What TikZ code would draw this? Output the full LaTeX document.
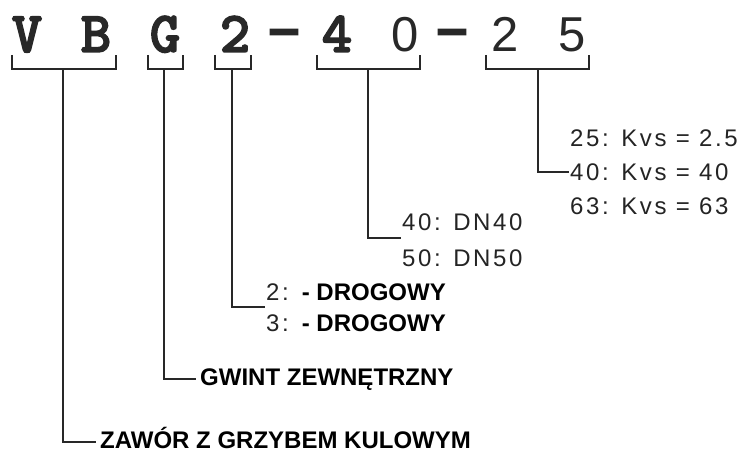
\documentclass[tikz,border=0pt]{standalone}
\usepackage{fontspec}
\setmainfont{Liberation Sans}
\newfontfamily\codefont{lmmonolt10-bold}[Extension=.otf,FakeBold=2.5]
\newfontfamily\dashfont{Liberation Sans}[FakeBold=2]
\newfontfamily\optfont[LetterSpace=11]{Liberation Sans}
\definecolor{inkgray}{RGB}{40,40,40}
\definecolor{optgray}{RGB}{36,36,36}
\begin{document}
\begin{tikzpicture}[x=1pt,y=1pt,yscale=-1,xscale=1,
  codeletter/.style={font=\codefont\fontsize{58}{58}\selectfont,text=inkgray,inner sep=0pt,anchor=base},
  codedigit/.style={font=\fontsize{49}{49}\selectfont,text=inkgray,inner sep=0pt,anchor=base},
  codedash/.style={font=\dashfont\bfseries\fontsize{56}{56}\selectfont,text=inkgray,inner sep=0pt,anchor=base},
  lead/.style={draw=inkgray,line width=1.6pt},
  keylabel/.style={anchor=base west,inner sep=1pt,text=black,font=\fontsize{24}{24}\selectfont\bfseries},
  optlabel/.style={anchor=base west,inner sep=1pt,text=optgray,font=\optfont\fontsize{24}{24}\selectfont}]
\useasboundingbox (0,0) rectangle (749,452);

% Code characters
\node[codeletter] (cV) at (27,52) {V};
\node[codeletter] (cB) at (96,52) {B};
\node[codeletter] (cG) at (165,52) {G};
\node[codeletter] (c2) at (235,52) {2};
\node[codedash] (d1) at (284,47) {–};
\node[codeletter] (c4) at (337,52) {4};
\node[codedigit] (c0) at (405,52) {0};
\node[codedash] (d2) at (452,47) {–};
\node[codedigit] (c2b) at (505,52) {2};
\node[codedigit] (c5) at (572,52) {5};

%Brackets
\draw[lead] (12,55) |- (116,69) -- (116,55);
\draw[lead] (148,55) |- (183,69) -- (183,55);
\draw[lead] (215,55) |- (251,69) -- (251,55);
\draw[lead] (317,55) |- (420,69) -- (420,55);
\draw[lead] (486,55) |- (589,69) -- (589,55);
\coordinate (sVB) at (63,69);
\coordinate (sG) at (164,69);
\coordinate (s2) at (232,69);
\coordinate (s40) at (368,69);
\coordinate (s25) at (538,69);

% Text Node
\node[optlabel] (kvs25) at (569,146) {25: Kvs = 2.5};
\node[optlabel] (kvs40) at (569,180) {40: Kvs = 40};
\node[optlabel] (kvs63) at (569,214) {63: Kvs = 63};
% Text Node
\node[optlabel] (dn40) at (401,230) {40: DN40};
\node[optlabel] (dn50) at (401,266) {50: DN50};
% Text Node
\node[optlabel] (way2) at (265,300) {2:\hspace{13pt}{\rmfamily\bfseries\color{black}- DROGOWY}};
\node[optlabel] (way3) at (265,331) {3:\hspace{13pt}{\rmfamily\bfseries\color{black}- DROGOWY}};
% Text Node
\node[keylabel,inner sep=4pt] (gwint) at (196,385) {GWINT ZEWNĘTRZNY};
\node[keylabel,inner sep=4pt] (zawor) at (96,448) {ZAWÓR Z GRZYBEM KULOWYM};

%Leaders
\draw[lead] (s25) |- (kvs40.west);
\draw[lead] (s40) |- ([yshift=8pt]dn40.base west);
\draw[lead] (s2) |- ([yshift=7pt]way2.base west);
\draw[lead] (sG) |- (gwint.west);
\draw[lead] (sVB) |- ([yshift=-6pt]zawor.base west);

\end{tikzpicture}
\end{document}
